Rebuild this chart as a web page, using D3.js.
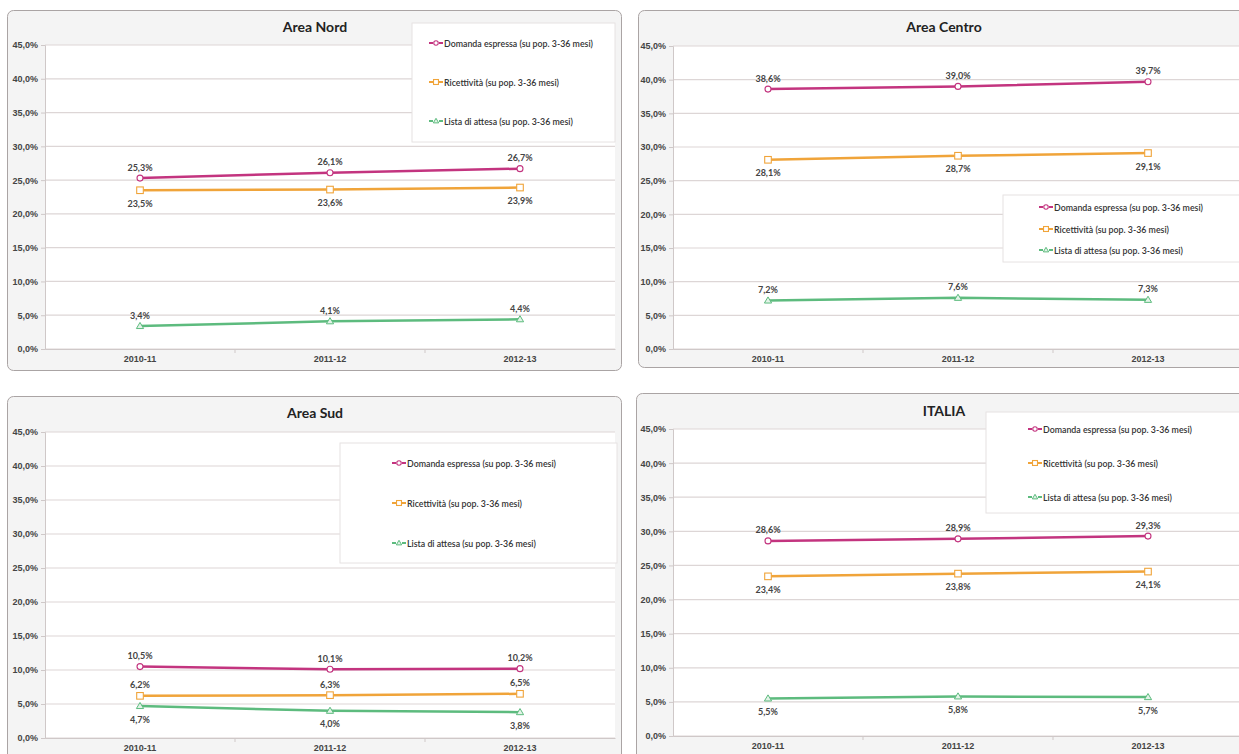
<!DOCTYPE html>
<html><head><meta charset="utf-8">
<script src="https://cdn.jsdelivr.net/npm/d3@7"></script>
<style>
html,body{margin:0;padding:0;background:#fff;}
svg{display:block;font-family:Lato,"Open Sans",sans-serif;}
</style></head>
<body><svg id="c" width="1239" height="754"></svg>
<script>
// ---- data ----
const categories = ["2010-11", "2011-12", "2012-13"];
const seriesNames = ["Domanda espressa (su pop. 3-36 mesi)", "Ricettività (su pop. 3-36 mesi)", "Lista di attesa (su pop. 3-36 mesi)"];
const areaTitles = ["Area Nord", "Area Centro", "Area Sud", "ITALIA"];
const domanda     = [[25.3, 26.1, 26.7], [38.6, 39.0, 39.7], [10.5, 10.1, 10.2], [28.6, 28.9, 29.3]];
const ricettivita = [[23.5, 23.6, 23.9], [28.1, 28.7, 29.1], [6.2, 6.3, 6.5], [23.4, 23.8, 24.1]];
const listaAttesa = [[3.4, 4.1, 4.4], [7.2, 7.6, 7.3], [4.7, 4.0, 3.8], [5.5, 5.8, 5.7]];
const yTicks = [0, 5, 10, 15, 20, 25, 30, 35, 40, 45];

// ---- layout / style ----
const colors = ["#c3347f", "#f0a43a", "#5dbb7e"];
const markerTypes = ["circle", "square", "triangle"];
const layouts = [
  {frame:[7,10,614,360], plot:[45,615,45,349], title:[315,26], legend:[412,23,203,119], legendRows:[43,82,121], legendSym:429,
   labelPos:[["a","a","a"],["b","b","b"],["a","a","a"]]},
  {frame:[638,10,640,357], plot:[673,1243,46,349], title:[944,26], legend:[1003,195,250,67], legendRows:[207,229,250], legendSym:1039,
   labelPos:[["a","a","a"],["b","b","b"],["a","a","a"]]},
  {frame:[7,396,614,400], plot:[45,615,432,738], title:[315,412], legend:[340,443,277,120], legendRows:[463,503,543], legendSym:392,
   labelPos:[["a","a","a"],["a","a","a"],["b","b","b"]]},
  {frame:[636,393,640,400], plot:[673,1243,429,736], title:[944,410], legend:[986,412,270,101], legendRows:[429,463,497], legendSym:1028,
   labelPos:[["a","a","a"],["b","b","b"],["b","b","b"]]}
];

const svg = d3.select("#c");
const fmt = v => d3.format(".1f")(v).replace(".", ",") + "%";

function drawMarker(g, type, x, y, color, size) {
  if (type === "circle") {
    g.append("circle").attr("cx", x).attr("cy", y).attr("r", size*0.5)
      .attr("fill", "#fff").attr("stroke", color).attr("stroke-width", 1.1);
  } else if (type === "square") {
    g.append("rect").attr("x", x - size*0.55).attr("y", y - size*0.55).attr("width", size*1.1).attr("height", size*1.1)
      .attr("fill", "#fff").attr("stroke", color).attr("stroke-width", 1.1);
  } else {
    const s = size*0.6;
    g.append("path").attr("d", `M${x},${y-s}L${x+s},${y+s*0.7}L${x-s},${y+s*0.7}Z`)
      .attr("fill", "#e3f3e8").attr("stroke", color).attr("stroke-width", 1);
  }
}

areaTitles.forEach((title, i) => {
  const L = layouts[i];
  const [fx, fy, fw, fh] = L.frame;
  const [pl, pr, pt, pb] = L.plot;
  const g = svg.append("g");

  // frame
  g.append("rect").attr("x", fx+0.5).attr("y", fy+0.5).attr("width", fw).attr("height", fh)
    .attr("rx", 6).attr("fill", "#f4f4f4").attr("stroke", "#aaa4a4").attr("stroke-width", 1);

  // plot area
  g.append("rect").attr("x", pl).attr("y", pt).attr("width", pr - pl).attr("height", pb - pt).attr("fill", "#fff");

  const x = d3.scaleBand().domain(categories).range([pl, pr]);
  const y = d3.scaleLinear().domain([0, 45]).range([pb, pt]);

  // gridlines
  g.append("g").selectAll("line").data(yTicks).join("line")
    .attr("x1", pl).attr("x2", pr).attr("y1", d => y(d)).attr("y2", d => y(d))
    .attr("stroke", "#ddd6d6").attr("stroke-width", 1.2);

  // y axis
  const ya = g.append("g").attr("transform", `translate(${pl},0)`)
    .call(d3.axisLeft(y).tickValues(yTicks).tickSize(4).tickFormat(fmt));
  ya.select(".domain").attr("stroke", "#cfc8c8");
  ya.selectAll(".tick line").attr("stroke", "#cfc8c8");
  ya.selectAll("text").attr("font-size", 9).attr("font-weight", 700).attr("fill", "#444").attr("x", -7);

  // x axis
  const xa = g.append("g").attr("transform", `translate(0,${pb})`)
    .call(d3.axisBottom(x).tickSize(0).tickPadding(7));
  xa.select(".domain").attr("stroke", "#cfc8c8");
  xa.selectAll("text").attr("font-size", 9).attr("font-weight", 700).attr("fill", "#444");
  const bounds = [pl + x.step(), pl + 2*x.step()];
  xa.selectAll(".bt").data(bounds).join("line").attr("class","bt")
    .attr("x1", d => d).attr("x2", d => d).attr("y1", 0).attr("y2", 4).attr("stroke", "#cfc8c8");

  // title
  g.append("text").attr("x", L.title[0]).attr("y", L.title[1]).attr("text-anchor", "middle")
    .attr("dominant-baseline", "central").attr("font-size", 14).attr("font-weight", 700).attr("fill", "#222")
    .text(title);

  // series
  const seriesData = [domanda[i], ricettivita[i], listaAttesa[i]];
  const line = d3.line().x((d, k) => x(categories[k]) + x.bandwidth()/2).y(d => y(d));
  seriesData.forEach((vals, s) => {
    const sg = g.append("g");
    sg.append("path").datum(vals).attr("d", line).attr("fill", "none")
      .attr("stroke", colors[s]).attr("stroke-width", 2.5);
    vals.forEach((v, k) => {
      const cx = x(categories[k]) + x.bandwidth()/2;
      drawMarker(sg, markerTypes[s], cx, y(v), colors[s], 6);
      const above = L.labelPos[s][k] === "a";
      sg.append("text").attr("x", cx).attr("y", y(v) + (above ? -11 : 13))
        .attr("text-anchor", "middle").attr("dominant-baseline", "central")
        .attr("font-size", 9).attr("font-weight", 700).attr("fill", "#444").text(fmt(v));
    });
  });

  // legend
  const [lx, ly, lw, lh] = L.legend;
  const lg = g.append("g");
  lg.append("rect").attr("x", lx).attr("y", ly).attr("width", lw).attr("height", lh)
    .attr("fill", "#fff").attr("stroke", "#e6e2e2");
  seriesNames.forEach((name, s) => {
    const ry = L.legendRows[s];
    const sx = L.legendSym;
    lg.append("line").attr("x1", sx).attr("x2", sx + 14).attr("y1", ry).attr("y2", ry)
      .attr("stroke", colors[s]).attr("stroke-width", 2).attr("stroke-dasharray", "4,6");
    drawMarker(lg, markerTypes[s], sx + 7, ry, colors[s], 4.5);
    lg.append("text").attr("x", sx + 15).attr("y", ry).attr("dominant-baseline", "central")
      .attr("font-size", 8.8).attr("font-weight", 600).attr("fill", "#333").text(name);
  });
});
</script></body></html>
